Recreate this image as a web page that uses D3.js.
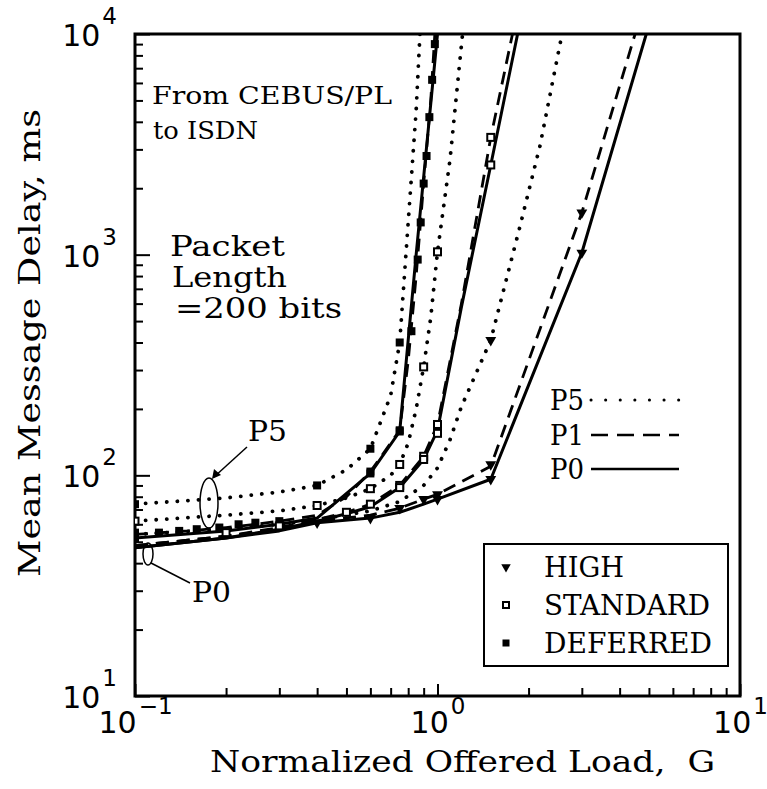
<!DOCTYPE html>
<html><head><meta charset="utf-8">
<script src="https://cdn.jsdelivr.net/npm/d3@7"></script>
<style>
html,body{margin:0;padding:0;background:#fff;}
svg{display:block;}
</style></head>
<body>
<svg id="chart" width="767" height="789"></svg>
<script>
// ---------------- DATA ----------------
const xTicksMajor = [0.1, 1, 10];
const xTickExp = ["−1", "0", "1"];
const yTicksMajor = [10, 100, 1000, 10000];
const yTickExp = ["1", "2", "3", "4"];

// DEFERRED (filled squares)
const defP5 = [[0.1,74],[0.2,79],[0.3,84],[0.4,90],[0.5,106],[0.6,132],[0.7,230],[0.75,400],[0.8,1400],[0.85,4500],[0.875,10000]];
const defP5Marks = [[0.1,74],[0.4,90],[0.6,132],[0.75,400]];
const defP1 = [[0.1,54],[0.15,56],[0.2,58],[0.25,60],[0.3,62],[0.35,64],[0.4,66],[0.5,80],[0.6,104],[0.75,160],[0.8,330],[0.85,800],[0.9,2100],[0.95,5000],[0.98,10000]];
const defP1Marks = [[0.1,55],[0.12,55],[0.14,56],[0.16,57],[0.19,58],[0.22,60],[0.25,61],[0.3,62],[0.6,104],[0.75,160],[0.82,450],[0.86,950],[0.88,1400],[0.9,2100],[0.92,2800],[0.94,4200],[0.96,6200],[0.98,9000]];
const defP0 = [[0.1,52],[0.2,56],[0.3,60],[0.4,64],[0.6,102],[0.75,158],[0.85,1000],[1.0,10000]];
const defP0Marks = [[0.1,52],[0.6,102],[0.75,158]];

// STANDARD (hollow squares)
const stdP5 = [[0.1,62],[0.2,66],[0.3,69],[0.4,73],[0.5,79],[0.6,87],[0.7,100],[0.75,112],[0.8,140],[0.85,200],[0.9,310],[0.95,520],[1.0,1030],[1.1,2700],[1.21,10000]];
const stdP5Marks = [[0.1,62],[0.4,73],[0.6,87],[0.75,112],[0.9,310],[1.0,1030]];
const stdP1 = [[0.1,48],[0.2,53],[0.3,58],[0.4,63],[0.5,68],[0.6,74],[0.75,90],[0.9,122],[1.0,170],[1.2,600],[1.5,3400],[1.77,10000]];
const stdP1Marks = [[0.2,55],[0.3,59],[0.5,68],[0.6,74],[0.75,90],[0.9,122],[1.0,170],[1.5,3400]];
const stdP0 = [[0.1,47],[0.2,52],[0.3,57],[0.4,62],[0.5,67],[0.6,72],[0.75,88],[0.9,118],[1.0,160],[1.2,580],[1.5,2550],[1.84,10000]];
const stdP0Marks = [[0.75,88],[0.9,118],[1.0,155],[1.5,2550]];

// HIGH (down triangles)
const highP5 = [[0.1,54],[0.2,57],[0.3,60],[0.4,63],[0.6,69],[0.75,76],[0.9,90],[1.0,108],[1.1,145],[1.2,205],[1.5,410],[1.87,1330],[2.18,3100],[2.58,10000]];
const highP5Marks = [[1.5,410]];
const highP1 = [[0.1,48],[0.2,53],[0.3,57],[0.4,62],[0.6,66],[0.75,71],[0.9,78],[1.0,82],[1.5,110],[3,1550],[4.5,10000]];
const highP1Marks = [[0.75,71],[0.9,78],[1.0,82],[1.5,112],[3,1550]];
const highP0 = [[0.1,47],[0.2,52],[0.3,56],[0.4,61],[0.6,64],[0.75,68],[0.9,74],[1.0,78],[1.5,96],[3,1020],[4.9,10000]];
const highP0Marks = [[0.4,61],[0.6,64],[1.0,78],[1.5,96],[3,1020]];

const protocols = ["P5", "P1", "P0"];
const classes = ["HIGH", "STANDARD", "DEFERRED"];
const xTitle = "Normalized Offered Load,  G";
const yTitle = "Mean Message Delay, ms";

// ---------------- CHART ----------------
const svg = d3.select("#chart");
const L = 135, R = 740, T = 34, B = 696;
const x = d3.scaleLog().domain([0.1, 10]).range([L, R]);
const y = d3.scaleLog().domain([10, 10000]).range([B, T]);

const serif = "'DejaVu Serif', serif";
const sans = "'DejaVu Sans', sans-serif";

svg.append("defs").append("clipPath").attr("id", "clip")
  .append("rect").attr("x", L).attr("y", T).attr("width", R - L).attr("height", B - T);

function txt(str, px, py, size, len, opts = {}) {
  const t = svg.append("text")
    .attr("x", px).attr("y", py)
    .attr("font-family", opts.family || serif)
    .attr("font-size", size)
    .attr("fill", "#000")
    .style("white-space", "pre")
    .text(str);
  if (len) t.attr("textLength", len).attr("lengthAdjust", "spacingAndGlyphs");
  if (opts.transform) t.attr("transform", opts.transform);
  return t;
}

// minor tick values
const yMinor = [];
[10, 100, 1000].forEach(d => { for (let k = 2; k <= 9; k++) yMinor.push(d * k); });
const xMinor = [];
[0.1, 1].forEach(d => { for (let k = 2; k <= 9; k++) xMinor.push(+(d * k).toFixed(3)); });

// Y axis ticks (inward)
const gy = svg.append("g").attr("transform", `translate(${L},0)`);
gy.call(d3.axisLeft(y).tickValues(yMinor).tickSizeInner(-8).tickSizeOuter(0).tickFormat(""));
const gyM = svg.append("g").attr("transform", `translate(${L},0)`);
gyM.call(d3.axisLeft(y).tickValues(yTicksMajor).tickSizeInner(-15).tickSizeOuter(0).tickPadding(18).tickFormat(() => ""));
[gy, gyM].forEach(g => { g.select(".domain").remove(); g.selectAll("line").attr("stroke", "#000").attr("stroke-width", 2); });
gyM.selectAll(".tick text").each(function(d, i) {
  const t = d3.select(this).attr("font-family", sans).attr("font-size", 30).attr("fill", "#000").attr("dy", "0.38em");
  t.append("tspan").text("10");
  t.append("tspan").attr("font-size", 23).attr("dy", -22).attr("dx", 2).text(yTickExp[i]);
});

// X axis ticks (inward)
const gx = svg.append("g").attr("transform", `translate(0,${B})`);
gx.call(d3.axisBottom(x).tickValues(xMinor).tickSizeInner(-8).tickSizeOuter(0).tickFormat(""));
const gxM = svg.append("g").attr("transform", `translate(0,${B})`);
gxM.call(d3.axisBottom(x).tickValues(xTicksMajor).tickSizeInner(-12).tickSizeOuter(0).tickPadding(16).tickFormat(() => ""));
[gx, gxM].forEach(g => { g.select(".domain").remove(); g.selectAll("line").attr("stroke", "#000").attr("stroke-width", 2); });
gxM.selectAll(".tick text").each(function(d, i) {
  const t = d3.select(this).attr("font-family", sans).attr("font-size", 30).attr("fill", "#000").attr("dy", "0.71em");
  t.append("tspan").text("10");
  t.append("tspan").attr("font-size", 23).attr("dy", -19).attr("dx", 2).text(xTickExp[i]);
});

// Frame
svg.append("rect").attr("x", L).attr("y", T).attr("width", R - L).attr("height", B - T)
  .attr("fill", "none").attr("stroke", "#000").attr("stroke-width", 3);

// Lines
const line = d3.line().x(d => x(d[0])).y(d => y(d[1]));
const styles = {
  P5: { dash: "0.1 10.5", width: 3.8, cap: "round" },
  P1: { dash: "13 8", width: 2.8, cap: "butt" },
  P0: { dash: null, width: 3, cap: "butt" }
};
const plot = svg.append("g").attr("clip-path", "url(#clip)");
const series = [
  { d: defP5, m: defP5Marks, p: "P5", c: "DEFERRED" },
  { d: defP1, m: defP1Marks, p: "P1", c: "DEFERRED" },
  { d: defP0, m: defP0Marks, p: "P0", c: "DEFERRED" },
  { d: stdP5, m: stdP5Marks, p: "P5", c: "STANDARD" },
  { d: stdP1, m: stdP1Marks, p: "P1", c: "STANDARD" },
  { d: stdP0, m: stdP0Marks, p: "P0", c: "STANDARD" },
  { d: highP5, m: highP5Marks, p: "P5", c: "HIGH" },
  { d: highP1, m: highP1Marks, p: "P1", c: "HIGH" },
  { d: highP0, m: highP0Marks, p: "P0", c: "HIGH" }
];
series.forEach(s => {
  const st = styles[s.p];
  plot.append("path").attr("d", line(s.d)).attr("fill", "none").attr("stroke", "#000")
    .attr("stroke-width", st.width).attr("stroke-linecap", st.cap)
    .attr("stroke-linejoin", "round")
    .attr("stroke-dasharray", st.dash);
});

function marker(g, cls, px, py, sz) {
  if (cls === "DEFERRED") {
    g.append("rect").attr("x", px - sz / 2).attr("y", py - sz / 2).attr("width", sz).attr("height", sz).attr("fill", "#000");
  } else if (cls === "STANDARD") {
    const s2 = sz - 1;
    g.append("rect").attr("x", px - s2 / 2).attr("y", py - s2 / 2).attr("width", s2).attr("height", s2)
      .attr("fill", "#fff").attr("stroke", "#000").attr("stroke-width", 2);
  } else {
    g.append("path").attr("d", d3.symbol(d3.symbolTriangle).size(sz * sz * 0.8)())
      .attr("transform", `translate(${px},${py}) rotate(180)`).attr("fill", "#000");
  }
}
series.forEach(s => {
  s.m.forEach(d => marker(plot, s.c, x(d[0]), y(d[1]), 8));
});

// Annotations
txt("From CEBUS/PL", 152, 104, 24, 240);
txt("to ISDN", 153, 139, 24, 105);
txt("Packet", 170, 256, 27, 115);
txt("Length", 172, 287, 27, 115);
txt("=200 bits", 175, 318, 27, 167);

txt("P5", 248, 441, 28, 39);
svg.append("ellipse").attr("cx", 209).attr("cy", 503).attr("rx", 9).attr("ry", 25)
  .attr("fill", "none").attr("stroke", "#000").attr("stroke-width", 1.5);
svg.append("line").attr("x1", 247).attr("y1", 447).attr("x2", 214).attr("y2", 477)
  .attr("stroke", "#000").attr("stroke-width", 1.5);
svg.append("path").attr("d", "M212,479 L214,469 L221,475 Z").attr("fill", "#000");

txt("P0", 192, 602, 28, 39);
svg.append("ellipse").attr("cx", 148).attr("cy", 554).attr("rx", 5).attr("ry", 11)
  .attr("fill", "none").attr("stroke", "#000").attr("stroke-width", 1.5);
svg.append("line").attr("x1", 151).attr("y1", 563).attr("x2", 190).attr("y2", 583)
  .attr("stroke", "#000").attr("stroke-width", 1.5);

// Protocol legend
const protoY = [400, 435, 469];
protocols.forEach((p, i) => {
  txt(p, 550, protoY[i] + 10, 27, 34);
  const st = styles[p];
  svg.append("line").attr("x1", 591).attr("x2", 679).attr("y1", protoY[i]).attr("y2", protoY[i])
    .attr("stroke", "#000").attr("stroke-width", p === "P5" ? 3 : 2.6)
    .attr("stroke-linecap", st.cap)
    .attr("stroke-dasharray", p === "P5" ? "0.1 14.5" : (p === "P1" ? "17 9" : null));
});

// Class legend
svg.append("rect").attr("x", 484).attr("y", 544).attr("width", 244).attr("height", 122)
  .attr("fill", "#fff").attr("stroke", "#000").attr("stroke-width", 2);
const clsY = [567, 605, 643];
const clsLen = [80, 166, 168];
classes.forEach((c, i) => {
  marker(svg, c, 506, clsY[i], 7);
  txt(c, 544, clsY[i] + 10, 28, clsLen[i]);
});

// Axis titles
txt(xTitle, 210, 772, 29, 505);
txt(yTitle, 0, 0, 30, 468, { transform: "translate(40,577) rotate(-90)" });
</script>
</body></html>
